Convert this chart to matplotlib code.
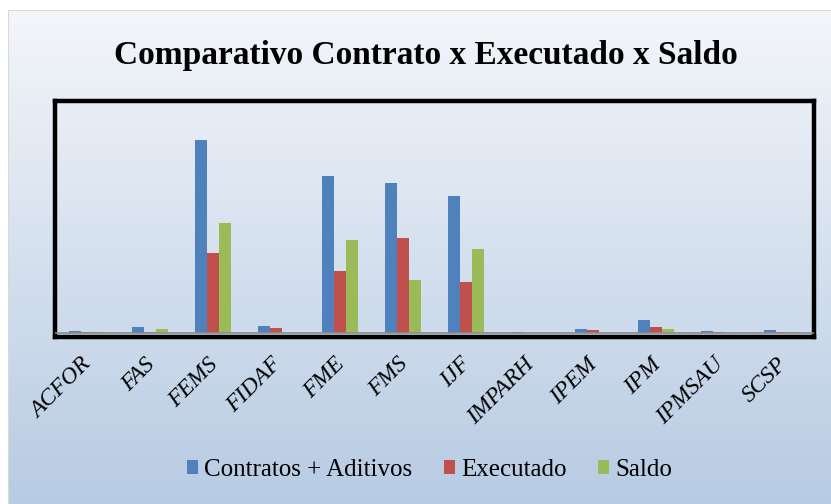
import matplotlib
matplotlib.use("Agg")
import matplotlib.pyplot as plt
import matplotlib.transforms as mtransforms
import numpy as np
from matplotlib.colors import LinearSegmentedColormap

# categories and series (arbitrary units)
categorias = ["ACFOR", "FAS", "FEMS", "FIDAF", "FME", "FMS", "IJF",
              "IMPARH", "IPEM", "IPM", "IPMSAU", "SCSP"]
contratos = [2.0, 6.3, 193.0, 7.0, 157.3, 149.7, 137.3, 0.7, 4.3, 13.3, 2.0, 3.0]
executado = [1.0, 1.0, 80.0, 5.0, 62.3, 94.7, 50.7, 0.3, 2.7, 6.3, 1.3, 1.0]
saldo = [1.5, 4.5, 110.0, 0.5, 92.7, 52.7, 84.3, 0.3, 0.3, 4.3, 0.0, 0.7]

series = [("Contratos + Aditivos", contratos, "#4f81bd"),
          ("Executado", executado, "#c0504d"),
          ("Saldo", saldo, "#9bbb59")]

fig = plt.figure(figsize=(8.31, 5.04), dpi=100)
fig.patch.set_facecolor("white")

# chart area with vertical gradient
bg = fig.add_axes([8 / 831, 0, 1, 494 / 504], zorder=0)
grad = LinearSegmentedColormap.from_list("g", ["#b7cbe3", "#f4f6fa"])
bg.imshow(np.linspace(0, 1, 256).reshape(-1, 1), aspect="auto", cmap=grad,
          origin="lower", extent=[0, 1, 0, 1])
bg.set_xlim(0, 1)
bg.set_ylim(0, 1)
bg.axis("off")
bg.add_line(plt.Line2D([0, 0], [0, 1], color="#d9d9d9", lw=1.5))
bg.add_line(plt.Line2D([0, 1], [1, 1], color="#d9d9d9", lw=1.5))

ax = fig.add_axes([55 / 831, 167 / 504, 759 / 831, 236 / 504], zorder=1)
ax.patch.set_alpha(0)

x = np.arange(len(categorias))
w = 0.19
for i, (nome, vals, cor) in enumerate(series):
    ax.bar(x + (i - 1) * w, vals, width=w, color=cor, label=nome, zorder=2)

ax.axhline(0, color="#8c8c8c", lw=1.2, zorder=3)
ax.set_xlim(-0.5, len(categorias) - 0.5)
ax.set_ylim(-4, 232)
ax.set_yticks([])
ax.set_xticks(x)
ax.set_xticklabels(categorias, rotation=45, ha="right", va="top",
                   family="Liberation Serif", style="italic", fontsize=17)
ax.tick_params(axis="x", length=0, pad=12)
shift = mtransforms.ScaledTranslation(0.09, 0, fig.dpi_scale_trans)
for lbl in ax.get_xticklabels():
    lbl.set_transform(lbl.get_transform() + shift)
for s in ax.spines.values():
    s.set_linewidth(3.2)
    s.set_color("black")

fig.text(0.512, 0.89, "Comparativo Contrato x Executado x Saldo",
         ha="center", va="center", family="Liberation Serif",
         fontweight="bold", fontsize=24)

fig.legend(loc="center", bbox_to_anchor=(0.517, 0.068), ncol=3, frameon=False,
           prop={"family": "Liberation Serif", "size": 18},
           handlelength=0.45, handleheight=0.45, handletextpad=0.25,
           columnspacing=1.25)

fig.savefig("out.png", dpi=100)
